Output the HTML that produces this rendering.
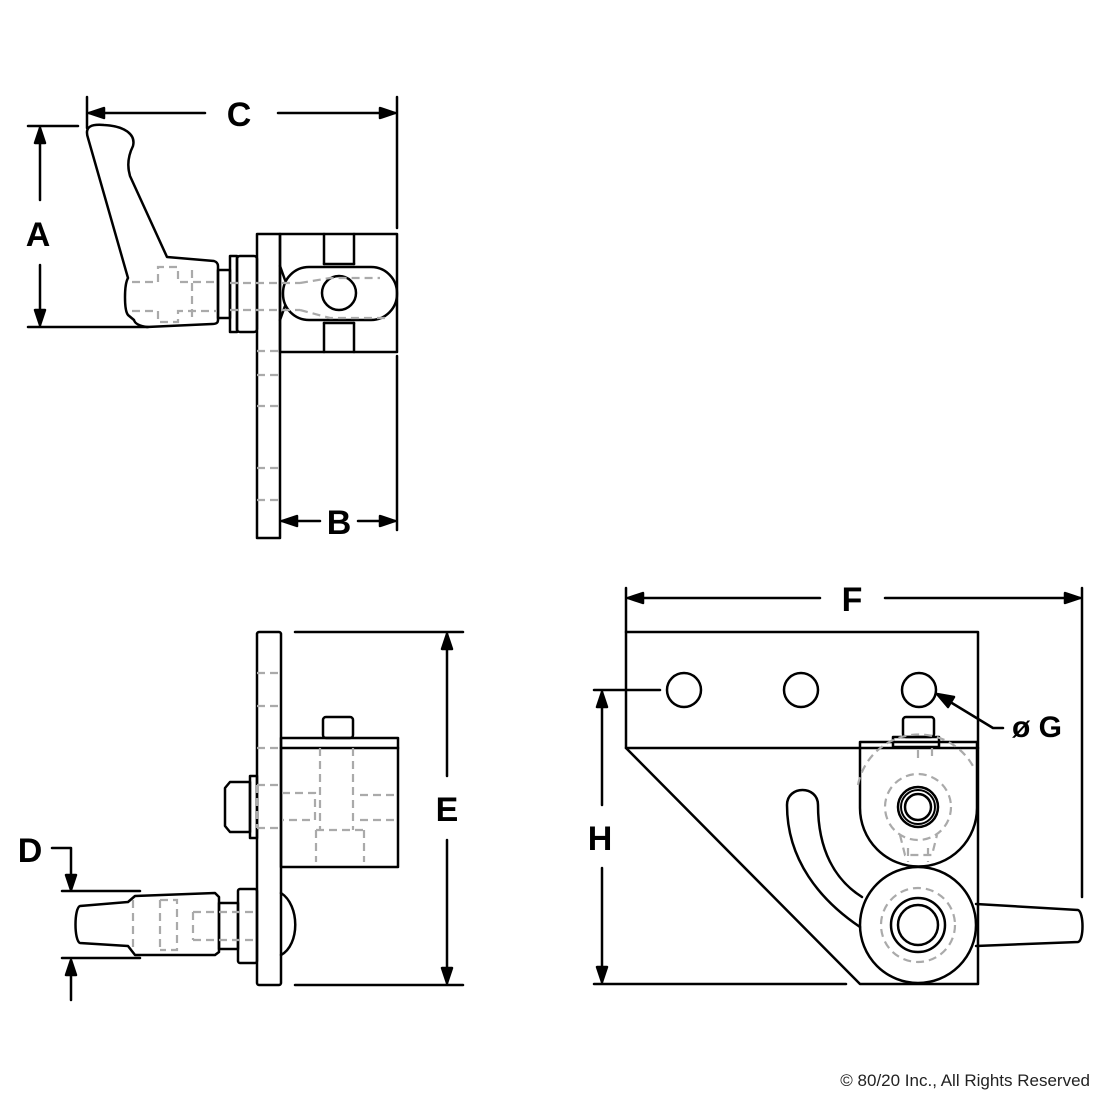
<!DOCTYPE html>
<html><head><style>body{margin:0;background:#fff}svg{display:block}</style></head><body>
<svg width="1100" height="1100" viewBox="0 0 1100 1100" xmlns="http://www.w3.org/2000/svg" font-family="Liberation Sans, sans-serif">
<g fill="none" stroke="#000" stroke-width="2.5" stroke-linejoin="round" stroke-linecap="round">
<!-- TOP VIEW -->
<line x1="87" y1="97" x2="87" y2="128"/>
<line x1="397" y1="97" x2="397" y2="228"/>
<line x1="397" y1="356" x2="397" y2="530"/>
<line x1="89" y1="113" x2="205" y2="113"/>
<path d="M89,113 L104,108 L104,118 Z" fill="#000"/>
<line x1="278" y1="113" x2="395" y2="113"/>
<path d="M395,113 L380,108 L380,118 Z" fill="#000"/>
<line x1="28" y1="126" x2="78" y2="126"/>
<line x1="28" y1="327" x2="148" y2="327"/>
<line x1="40" y1="128" x2="40" y2="200"/>
<line x1="40" y1="265" x2="40" y2="325"/>
<path d="M40,128 L35,143 L45,143 Z" fill="#000"/>
<path d="M40,325 L35,310 L45,310 Z" fill="#000"/>
<rect x="257" y="234" width="23" height="304"/>
<rect x="280" y="234" width="117" height="118"/>
<line x1="324" y1="234" x2="324" y2="264"/><line x1="354" y1="234" x2="354" y2="264"/>
<line x1="324" y1="264" x2="354" y2="264"/>
<line x1="324" y1="323" x2="354" y2="323"/>
<line x1="324" y1="323" x2="324" y2="352"/><line x1="354" y1="323" x2="354" y2="352"/>
<rect x="283" y="267" width="114" height="53" rx="26"/>
<circle cx="339" cy="293" r="17"/>
<path d="M280,266 L285,280 M280,320 L285,306"/>
<path d="M88,138 C84,126 92,124 104,125 C124,126 136,134 133,146 C128,156 127,166 130,176 L167,257 L214,261 C217,262 218,264 218,266 L218,320 C218,323 216,324 212,324 L147,327 C140,326 135,324 134,320 L128,315 C124,310 124,285 128,278 Z"/>
<rect x="218" y="270" width="12" height="48"/>
<rect x="230" y="256" width="7" height="76"/>
<rect x="237" y="256" width="20" height="76" rx="3"/>
<line x1="282" y1="521" x2="320" y2="521"/><path d="M282,521 L297,516 L297,526 Z" fill="#000"/>
<line x1="358" y1="521" x2="395" y2="521"/><path d="M395,521 L380,516 L380,526 Z" fill="#000"/>

<!-- BOTTOM LEFT VIEW -->
<rect x="257" y="632" width="24" height="353" rx="2"/>
<rect x="281" y="738" width="117" height="129"/>
<line x1="281" y1="748" x2="398" y2="748"/>
<rect x="323" y="717" width="30" height="21" rx="3"/>
<path d="M230,782 L250,782 L250,832 L230,832 L225,826 L225,788 Z"/>
<rect x="250" y="776" width="7" height="62"/>
<path d="M80,906 L128,902 L135,896 L215,893 L219,897 L219,952 L215,955 L135,955 L128,946 L80,943 C74,941 74,908 80,906 Z"/>
<rect x="219" y="903" width="19" height="46"/>
<rect x="238" y="889" width="19" height="74" rx="2"/>
<path d="M281,893 C300,905 300,945 281,955"/>
<line x1="295" y1="632" x2="463" y2="632"/>
<line x1="295" y1="985" x2="463" y2="985"/>
<line x1="447" y1="634" x2="447" y2="776"/>
<line x1="447" y1="840" x2="447" y2="983"/>
<path d="M447,634 L442,649 L452,649 Z" fill="#000"/>
<path d="M447,983 L442,968 L452,968 Z" fill="#000"/>
<path d="M52,848 L71,848 L71,888"/>
<path d="M71,890 L66,875 L76,875 Z" fill="#000"/>
<line x1="62" y1="891" x2="140" y2="891"/>
<line x1="62" y1="958" x2="140" y2="958"/>
<line x1="71" y1="962" x2="71" y2="1000"/>
<path d="M71,960 L66,975 L76,975 Z" fill="#000"/>

<!-- RIGHT VIEW -->
<rect x="626" y="632" width="352" height="116"/>
<circle cx="684" cy="690" r="17"/><circle cx="801" cy="690" r="17"/><circle cx="919" cy="690" r="17"/>
<path d="M626,748 L860,984 L978,984 L978,748"/>
<path d="M860,742 L860,808 A58,58 0 0 0 977,808 L977,742 Z"/>
<rect x="893" y="737" width="46" height="10"/>
<rect x="903" y="717" width="31" height="20" rx="3"/>
<circle cx="918" cy="807" r="13"/><circle cx="918" cy="807" r="17" stroke-width="2"/><circle cx="918" cy="807" r="20"/>
<circle cx="918" cy="925" r="58" fill="#fff"/>
<circle cx="918" cy="925" r="20"/><circle cx="918" cy="925" r="27"/>
<path d="M862,897 C835,880 818,850 818,805 C818,785 787,785 787,805 C787,860 820,900 860,927"/>
<path d="M976,904 L1078,910 C1084,912 1084,941 1078,942 L976,946"/>
<line x1="626" y1="588" x2="626" y2="632"/>
<line x1="1082" y1="588" x2="1082" y2="897"/>
<line x1="628" y1="598" x2="820" y2="598"/><path d="M628,598 L643,593 L643,603 Z" fill="#000"/>
<line x1="885" y1="598" x2="1080" y2="598"/><path d="M1080,598 L1065,593 L1065,603 Z" fill="#000"/>
<line x1="594" y1="690" x2="660" y2="690"/>
<line x1="594" y1="984" x2="846" y2="984"/>
<line x1="602" y1="692" x2="602" y2="805"/>
<line x1="602" y1="868" x2="602" y2="982"/>
<path d="M602,692 L597,707 L607,707 Z" fill="#000"/>
<path d="M602,982 L597,967 L607,967 Z" fill="#000"/>
<path d="M1003,728 L993,728 L942,697"/>
<path d="M937,694 L954,697 L948,707 Z" fill="#000"/>
</g>
<!-- hidden lines -->
<g fill="none" stroke="#aaa" stroke-width="2.2" stroke-dasharray="8,5">
<path d="M132,282 L158,282 L158,267 L178,267 L178,282 L217,282 M132,311 L158,311 L158,322 L178,322 L178,311 L217,311"/>
<path d="M192,270 L192,320"/>
<path d="M230,283 L300,283 M230,310 L300,310 M300,283 L330,278 L380,278 M300,310 L330,318 L390,318"/>
<path d="M257,351 L280,351 M257,375 L280,375 M257,406 L280,406 M257,468 L280,468 M257,500 L280,500"/>
<path d="M257,673 L281,673 M257,706 L281,706 M257,748 L281,748 M257,785 L281,785 M257,828 L281,828 M257,785 L257,828"/>
<path d="M282,793 L315,793 L315,820 L282,820 M320,748 L320,830 M353,748 L353,830 M360,795 L398,795 M360,820 L398,820 M316,830 L316,862 M364,830 L364,862 M316,830 L364,830"/>
<path d="M133,900 L133,950 M160,900 L160,950 M160,900 L177,900 L177,950 L160,950 M193,912 L257,912 M193,940 L257,940 M193,912 L193,940"/>
<path d="M858,785 A62,62 0 0 1 975,770 M918,750 L918,760 M932,748 L932,760"/>
<circle cx="918" cy="807" r="33"/>
<path d="M900,835 L905,855 L932,855 L937,835 M908,848 L908,862 M928,848 L928,862"/>
<circle cx="918" cy="925" r="37"/>
</g>
<g font-weight="bold" fill="#000" text-anchor="middle">
<text x="239" y="126" font-size="34">C</text>
<text x="38" y="246" font-size="34">A</text>
<text x="339" y="534" font-size="34">B</text>
<text x="30" y="862" font-size="34">D</text>
<text x="447" y="821" font-size="34">E</text>
<text x="852" y="611" font-size="34">F</text>
<text x="600" y="850" font-size="34">H</text>
<text x="1037" y="737" font-size="30">ø G</text>
</g>
<text x="1090" y="1086" font-size="17" text-anchor="end" fill="#222">© 80/20 Inc., All Rights Reserved</text>
</svg>
</body></html>
